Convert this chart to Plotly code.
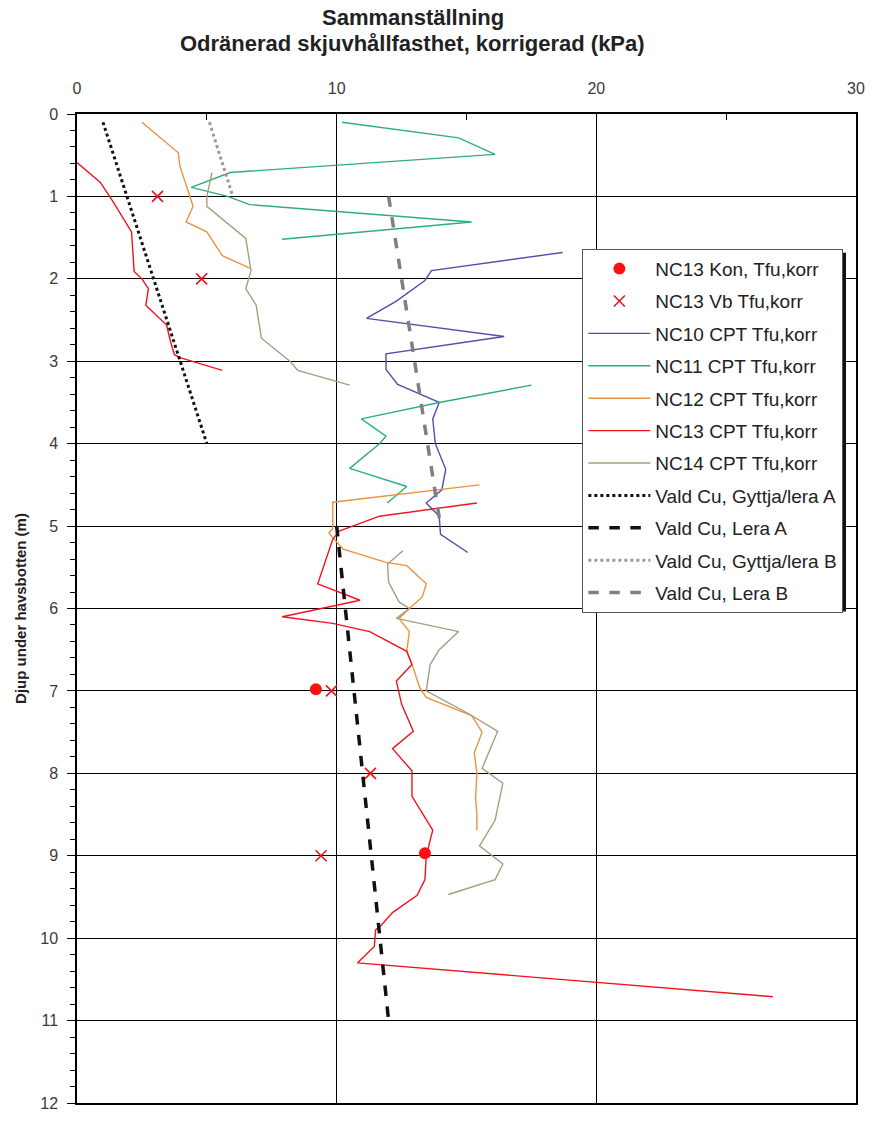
import plotly.graph_objects as go

# ---------------- data ----------------
# NC13 Kon (fall cone) points
kon_x = [9.2, 13.4]
kon_y = [6.98, 8.97]
# NC13 Vb (vane) points
vb_x = [3.1, 4.8, 9.8, 11.3, 9.4]
vb_y = [1.0, 2.0, 7.0, 8.0, 9.0]

# NC10 CPT
nc10_x = [18.7, 13.65, 13.4, 12.3, 11.15, 16.45, 11.9, 11.9, 12.35, 13.95, 13.7, 13.8, 14.2, 14.05, 13.45, 13.95, 14.0, 15.05]
nc10_y = [1.68, 1.90, 2.02, 2.27, 2.48, 2.70, 2.91, 3.10, 3.28, 3.50, 3.70, 4.00, 4.31, 4.56, 4.72, 4.88, 5.10, 5.32]

# NC11 CPT (two measured sections)
nc11_x = [10.2, 14.7, 16.1, 5.9, 4.4, 5.8, 6.65, 10.0, 15.2, 7.9, None,
          17.5, 13.95, 10.95, 11.9, 11.65, 10.5, 12.7, 11.95]
nc11_y = [0.10, 0.29, 0.49, 0.71, 0.89, 1.00, 1.10, 1.18, 1.31, 1.52, None,
          3.29, 3.50, 3.70, 3.91, 4.00, 4.30, 4.52, 4.72]

# NC12 CPT
nc12_x = [2.5, 3.9, 3.96, 4.35, 4.47, 4.2, 5.0, 5.6, 6.65, None,
          15.5, 9.85, 9.85, 9.7, 9.85, 10.25, 11.9, 12.7, 13.45, 13.3, 12.8, 12.4, 12.8, 12.7,
          12.9, 13.2, 13.45, 15.2, 15.6, 15.3, 15.4, 15.35, 15.4, 15.4]
nc12_y = [0.10, 0.47, 0.63, 1.00, 1.12, 1.31, 1.43, 1.72, 1.87, None,
          4.50, 4.71, 5.03, 5.08, 5.14, 5.28, 5.44, 5.48, 5.70, 5.86, 6.00, 6.12, 6.28, 6.52,
          6.68, 6.96, 7.08, 7.30, 7.50, 7.75, 8.00, 8.30, 8.50, 8.69]

# NC13 CPT
nc13_x = [0.0, 0.9, 1.4, 2.1, 2.2, 2.5, 2.75, 2.65, 3.45, 3.6, 3.75, 4.0, 5.6, None,
          15.4, 11.65, 10.1, 9.85, 9.27, 10.9, 10.0, 7.9, 9.85, 11.27, 12.7, 12.9, 12.3, 12.5,
          12.95, 12.15, 12.9, 12.9, 13.7, 13.45, 13.4, 13.1, 12.15, 11.7, 11.5, 11.45, 10.8, 26.8]
nc13_y = [0.59, 0.83, 1.07, 1.43, 1.91, 2.00, 2.12, 2.32, 2.56, 2.76, 2.92, 2.96, 3.11, None,
          4.72, 4.88, 5.06, 5.16, 5.70, 5.90, 5.96, 6.10, 6.18, 6.28, 6.52, 6.68, 6.88, 7.16,
          7.49, 7.70, 7.97, 8.28, 8.69, 9.00, 9.29, 9.48, 9.69, 9.85, 9.90, 10.10, 10.30, 10.71]

# NC14 CPT
nc14_x = [5.2, 5.0, 5.0, 6.5, 6.7, 6.5, 6.9, 7.1, 8.2, 8.5, 10.5, None,
          12.55, 11.96, 12.0, 12.4, 12.8, 12.3, 14.7, 13.95, 13.6, 13.45, 15.1, 16.2, 15.6,
          16.4, 16.1, 15.5, 16.4, 16.1, 14.3]
nc14_y = [0.71, 1.00, 1.12, 1.51, 1.90, 2.12, 2.32, 2.72, 3.00, 3.11, 3.29, None,
          5.30, 5.46, 5.68, 5.92, 6.00, 6.12, 6.28, 6.50, 6.68, 7.00, 7.28, 7.49, 7.94,
          8.12, 8.57, 8.88, 9.10, 9.29, 9.47]

# Chosen design values
cu_gyttja_a_x = [1.0, 5.0]
cu_gyttja_a_y = [0.1, 4.0]
cu_lera_a_x = [10.0, 12.0]
cu_lera_a_y = [5.0, 11.0]
cu_gyttja_b_x = [5.1, 6.0]
cu_gyttja_b_y = [0.1, 1.0]
cu_lera_b_x = [12.0, 14.0]
cu_lera_b_y = [1.0, 5.0]

names = ["NC13 Kon, Tfu,korr", "NC13 Vb Tfu,korr", "NC10 CPT Tfu,korr", "NC11 CPT Tfu,korr",
         "NC12 CPT Tfu,korr", "NC13 CPT Tfu,korr", "NC14 CPT Tfu,korr",
         "Vald Cu, Gyttja/lera A", "Vald Cu, Lera A", "Vald Cu, Gyttja/lera B", "Vald Cu, Lera B"]

title_lines = ["Sammanställning", "Odränerad skjuvhållfasthet, korrigerad (kPa)"]

# ---------------- figure ----------------
fig = go.Figure()

def line(x, y, name, color, width=1.4, dash="solid", i=0):
    fig.add_trace(go.Scatter(x=x, y=y, mode="lines", name=name, legendgroup=f"g{i}",
                             line=dict(color=color, width=width, dash=dash),
                             connectgaps=False))

fig.add_trace(go.Scatter(x=kon_x, y=kon_y, mode="markers", name=names[0], legendgroup="g0",
                         marker=dict(color="#FF1010", size=12, symbol="circle")))
fig.add_trace(go.Scatter(x=vb_x, y=vb_y, mode="markers", name=names[1], legendgroup="g1",
                         marker=dict(color="#E8141E", size=11, symbol="x-thin",
                                     line=dict(color="#E8141E", width=1.6))))
line(nc10_x, nc10_y, names[2], "#5B4BA8", i=2)
line(nc11_x, nc11_y, names[3], "#2EAE7E", i=3)
line(nc12_x, nc12_y, names[4], "#E8953F", i=4)
line(nc13_x, nc13_y, names[5], "#F0141E", i=5)
line(nc14_x, nc14_y, names[6], "#A89E7E", i=6)
line(cu_gyttja_a_x, cu_gyttja_a_y, names[7], "#111111", width=3, dash="dot", i=7)
line(cu_lera_a_x, cu_lera_a_y, names[8], "#111111", width=3.5, dash="dash", i=8)
line(cu_gyttja_b_x, cu_gyttja_b_y, names[9], "#9A9A9A", width=3, dash="dot", i=9)
line(cu_lera_b_x, cu_lera_b_y, names[10], "#808080", width=3.5, dash="dash", i=10)

font_fam = "Liberation Sans Narrow, Arial Narrow, Liberation Sans, Arial"
tick_font = dict(family="Liberation Sans, Arial", size=16, color="#3a3a3a")

# legend shadow
fig.add_shape(type="rect", xref="paper", yref="paper",
              x0=(587 - 77) / 780, x1=(847 - 77) / 780,
              y0=1 - (616 - 114) / 998, y1=1 - (254 - 114) / 998,
              fillcolor="#111111", line=dict(width=0), layer="above")

# two-line heading
for k, (txt, ypx) in enumerate(zip(title_lines, [17, 43])):
    fig.add_annotation(text=f"<b>{txt}</b>", xref="paper", yref="paper",
                       x=(413 - 77) / 780, y=1 + (114 - ypx) / 998,
                       xanchor="center", yanchor="middle", showarrow=False,
                       font=dict(family=font_fam, size=22, color="#222222"))

fig.update_layout(
    width=874, height=1121,
    margin=dict(l=77, r=17, t=114, b=9),
    paper_bgcolor="white", plot_bgcolor="white",
    showlegend=True,
    legend=dict(x=(583 - 77) / 780, y=1 - (250 - 114) / 998, xanchor="left", yanchor="top",
                bgcolor="white", bordercolor="#555555", borderwidth=1,
                font=dict(family="Liberation Sans, Arial", size=19, color="#222222"),
                tracegroupgap=4.7, traceorder="grouped", itemwidth=62),
    xaxis=dict(side="top", range=[0, 30], dtick=10, tick0=0,
               showgrid=True, gridcolor="#000000", gridwidth=1,
               zeroline=False, showline=True, linecolor="#000000", linewidth=1.5, mirror=True,
               ticks="", tickfont=tick_font, ticklabelstandoff=12,
               minor=dict(dtick=5, ticks="inside", ticklen=6, tickcolor="#000000", showgrid=False)),
    yaxis=dict(range=[12, 0], dtick=1, tick0=0,
               showgrid=True, gridcolor="#000000", gridwidth=1,
               zeroline=False, showline=True, linecolor="#000000", linewidth=1.5, mirror=True,
               ticks="outside", ticklen=8, tickcolor="#000000", tickfont=tick_font,
               ticklabelstandoff=6,
               minor=dict(dtick=0.2, ticks="outside", ticklen=5, tickcolor="#000000", showgrid=False),
               title=dict(text="<b>Djup under havsbotten (m)</b>",
                          font=dict(family=font_fam, size=15, color="#222222"), standoff=10)),
)

fig.write_html("out.html")
